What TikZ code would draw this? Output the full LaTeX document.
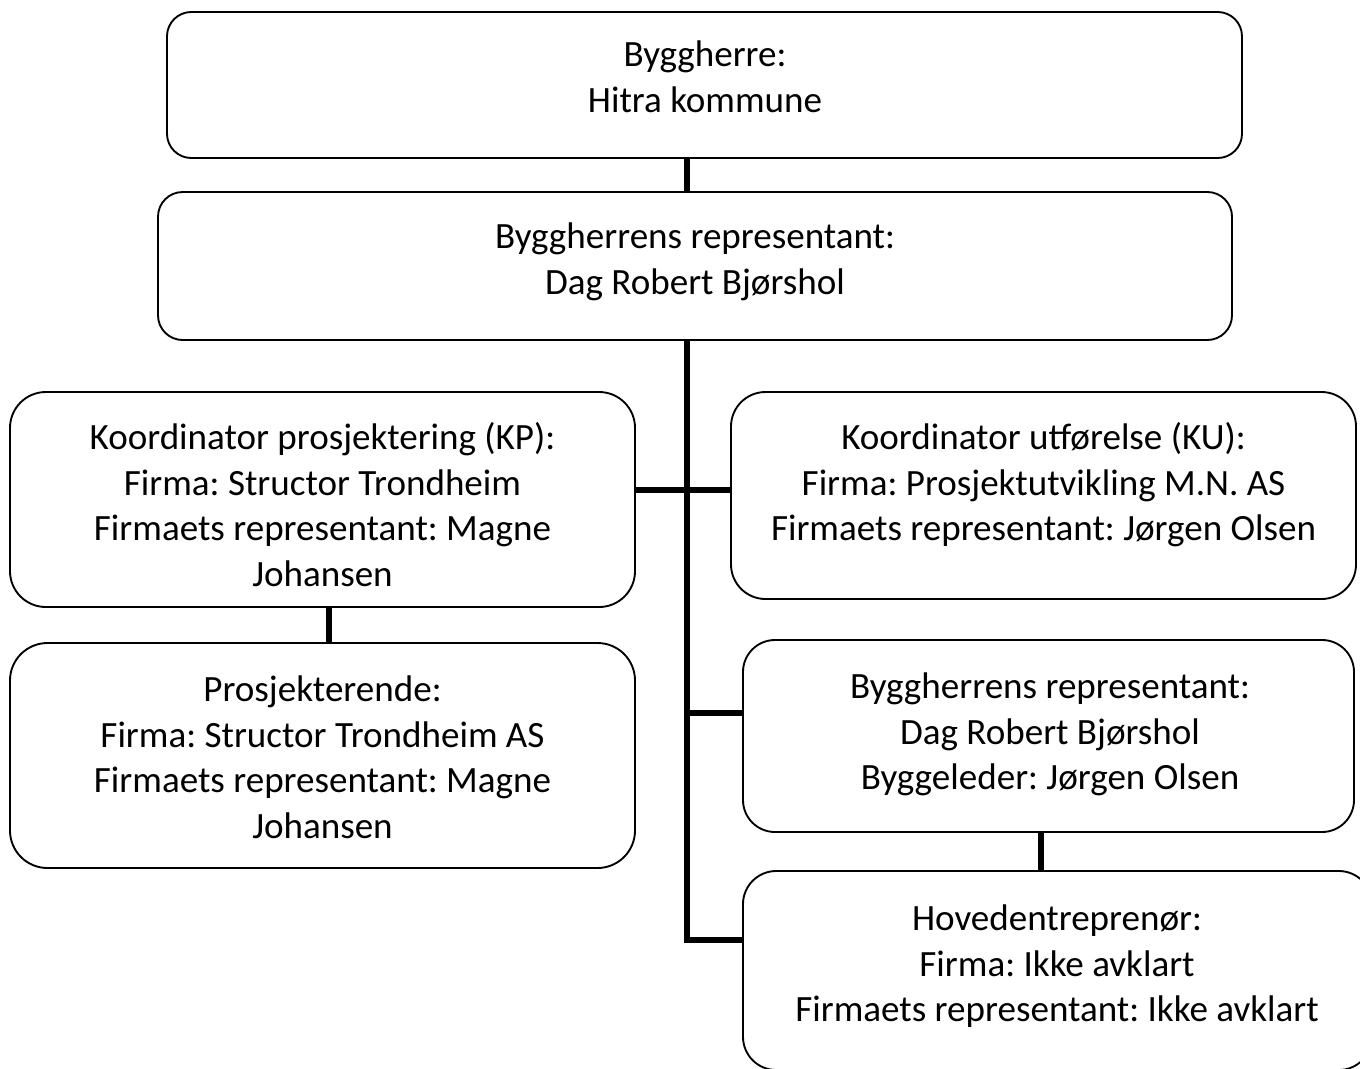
\documentclass[tikz,border=0pt]{standalone}
\usepackage{fontspec}
\setmainfont{Carlito}
\frenchspacing
\begin{document}
\begin{tikzpicture}[x=0.75pt,y=-0.75pt,
  box/.style={draw=black, line width=1.4pt, rounded corners=#1, inner sep=0pt},
  txt/.style={inner sep=0pt, align=center, anchor=north, text=black,
    font=\fontsize{27.8}{34.3}\selectfont\frenchspacing},
  conn/.style={draw=black, line width=4.5pt}]
\useasboundingbox (0,0) rectangle (1360,1068);
\clip (0,0) rectangle (1360,1068);
% boxes
\node[box=18.2pt, minimum width=806.25pt, minimum height=109.5pt] (top) at (704.5,85) {};
\node[box=18.5pt, minimum width=805.5pt, minimum height=111pt] (rep) at (695,266) {};
\node[box=26.9pt, minimum width=468.75pt, minimum height=161.25pt] (kp) at (322.5,499.5) {};
\node[box=25.9pt, minimum width=468.75pt, minimum height=155.25pt] (ku) at (1043.5,495.5) {};
\node[box=28.1pt, minimum width=468.75pt, minimum height=168.75pt] (pros) at (322.5,755.5) {};
\node[box=24pt, minimum width=458.25pt, minimum height=144pt] (byg) at (1048.5,736) {};
\node[box=24.9pt, minimum width=471.75pt, minimum height=149.25pt] (hov) at (1057.5,970.5) {};
% texts
\newcommand{\fl}{\rule{0pt}{22.5pt}}
\node[txt] (toptxt) at (705,36.5) {\fl Byggherre:\\Hitra kommune};
\node[txt] (reptxt) at (695,218) {\fl Byggherrens representant:\\Dag Robert Bjørshol};
\node[txt] (kptxt) at (322.5,419) {\fl Koordinator prosjektering (KP):\\Firma: Structor Trondheim\\Firmaets representant: Magne\\Johansen};
\node[txt] (kutxt) at (1043.5,419) {\fl Koordinator utførelse (KU):\\Firma: Prosjektutvikling M.N. AS\\Firmaets representant: Jørgen Olsen};
\node[txt] (prostxt) at (322.5,671) {\fl Prosjekterende:\\Firma: Structor Trondheim AS\\Firmaets representant: Magne\\Johansen};
\node[txt] (bygtxt) at (1050,668) {\fl Byggherrens representant:\\Dag Robert Bjørshol\\Byggeleder: Jørgen Olsen};
\node[txt] (hovtxt) at (1057,900) {\fl Hovedentreprenør:\\Firma: Ikke avklart\\Firmaets representant: Ikke avklart};
% connector guides
\coordinate (trunk) at (686.5,0);
\coordinate (kpc) at (0,490);
\coordinate (byc) at (0,713);
\coordinate (hovc) at (0,940);
\coordinate (kpx) at (328.5,0);
\coordinate (byx) at (1041,0);
% connectors
\draw[conn] (top.south -| trunk) -- (rep.north -| trunk);
\draw[conn] (rep.south -| trunk) -- (trunk |- hovc) -- (hov.west |- hovc);
\draw[conn] (kp.east |- kpc) -- (ku.west |- kpc);
\draw[conn] (trunk |- byc) -- (byg.west |- byc);
\draw[conn] (kp.south -| kpx) -- (pros.north -| kpx);
\draw[conn] (byg.south -| byx) -- (hov.north -| byx);
\end{tikzpicture}
\end{document}
